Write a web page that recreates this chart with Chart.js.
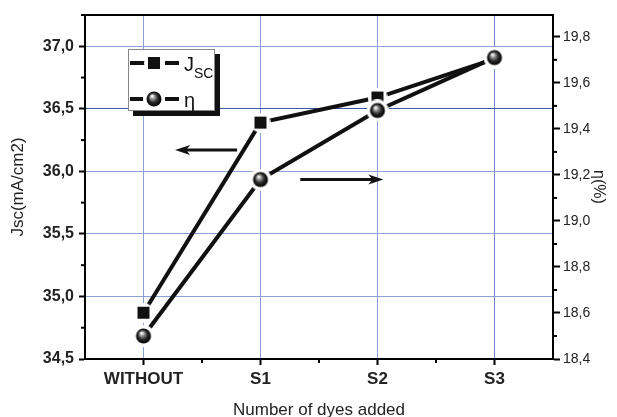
<!DOCTYPE html>
<html>
<head>
<meta charset="utf-8">
<script src="https://cdn.jsdelivr.net/npm/chart.js@4"></script>
<style>
    html, body { margin: 0; padding: 0; background: #fff; }
</style>
</head>
<body>
<canvas id="dyeChart" width="617" height="417"></canvas>
<script>
// Data
const categories = ['WITHOUT', 'S1', 'S2', 'S3'];
const jscValues = [34.87, 36.39, 36.59, 36.90];
const etaValues = [18.50, 19.18, 19.48, 19.71];
const jscTicks = [34.5, 35.0, 35.5, 36.0, 36.5, 37.0];
const etaTicks = [18.4, 18.6, 18.8, 19.0, 19.2, 19.4, 19.6, 19.8];

const FONT = "'Liberation Sans', Arial, sans-serif";
const GRID_LIGHT = '#8aa0d6';
const GRID_DARK = '#3a56a6';

// arrows pointing to the axis each curve belongs to (category index, axis value)
const arrowJsc = { from: 0.80, to: 0.27, value: 36.17 };
const arrowEta = { from: 1.34, to: 2.05, value: 19.18 };

// Marker images (white halo gives the Origin-style gap in the line)
function makeSquare() {
    const c = document.createElement('canvas');
    c.width = 20; c.height = 20;
    const g = c.getContext('2d');
    g.fillStyle = '#fff';
    g.beginPath(); g.arc(10, 10, 10, 0, Math.PI * 2); g.fill();
    g.fillStyle = '#111';
    g.fillRect(4, 4, 12, 12);
    return c;
}

function makeBall() {
    const c = document.createElement('canvas');
    c.width = 22; c.height = 22;
    const g = c.getContext('2d');
    g.fillStyle = '#fff';
    g.beginPath(); g.arc(11, 11, 11, 0, Math.PI * 2); g.fill();
    const grad = g.createRadialGradient(9, 8, 0.5, 11, 11, 7.5);
    grad.addColorStop(0, '#ffffff');
    grad.addColorStop(0.25, '#9a9a9a');
    grad.addColorStop(0.6, '#2a2a2a');
    grad.addColorStop(1, '#000000');
    g.fillStyle = grad;
    g.beginPath(); g.arc(11, 11, 7.5, 0, Math.PI * 2); g.fill();
    return c;
}

const squareImg = makeSquare();
const ballImg = makeBall();

function fmt(v) {
    return Number(v).toFixed(1).replace('.', ',');
}

function drawArrow(ctx, x1, x2, y) {
    const dir = Math.sign(x2 - x1);
    ctx.strokeStyle = '#111';
    ctx.fillStyle = '#111';
    ctx.lineWidth = 3;
    ctx.beginPath();
    ctx.moveTo(x1, y);
    ctx.lineTo(x2 - dir * 10, y);
    ctx.stroke();
    ctx.beginPath();
    ctx.moveTo(x2, y);
    ctx.lineTo(x2 - dir * 15, y - 5);
    ctx.lineTo(x2 - dir * 11, y);
    ctx.lineTo(x2 - dir * 15, y + 5);
    ctx.closePath();
    ctx.fill();
}

// Frame, minor ticks, arrows and legend
const decorPlugin = {
    id: 'decor',
    afterDraw(chart) {
        const { ctx, chartArea: a, scales } = chart;
        ctx.save();

        // top frame line
        ctx.strokeStyle = '#000';
        ctx.lineWidth = 2;
        ctx.beginPath();
        ctx.moveTo(a.left - 1, a.top);
        ctx.lineTo(a.right + 1, a.top);
        ctx.stroke();

        // minor ticks
        ctx.lineWidth = 2;
        for (let i = 0; i < jscTicks.length; i++) {
            const v = jscTicks[i] + 0.25;
            if (v > scales.y.max) break;
            const py = scales.y.getPixelForValue(v);
            ctx.beginPath(); ctx.moveTo(a.left - 4, py); ctx.lineTo(a.left, py); ctx.stroke();
        }
        for (let i = 0; i < etaTicks.length; i++) {
            const v = etaTicks[i] + 0.1;
            if (v > scales.y1.max) break;
            const py = scales.y1.getPixelForValue(v);
            ctx.beginPath(); ctx.moveTo(a.right, py); ctx.lineTo(a.right + 4, py); ctx.stroke();
        }
        for (let i = 0; i < categories.length - 1; i++) {
            const px = (scales.x.getPixelForValue(i) + scales.x.getPixelForValue(i + 1)) / 2;
            ctx.beginPath(); ctx.moveTo(px, a.bottom); ctx.lineTo(px, a.bottom + 4); ctx.stroke();
        }

        // arrows
        drawArrow(ctx, scales.x.getPixelForValue(arrowJsc.from), scales.x.getPixelForValue(arrowJsc.to),
            scales.y.getPixelForValue(arrowJsc.value));
        drawArrow(ctx, scales.x.getPixelForValue(arrowEta.from), scales.x.getPixelForValue(arrowEta.to),
            scales.y1.getPixelForValue(arrowEta.value));

        // legend box with shadow
        const bx = a.left + 43, by = a.top + 34, bw = 87, bh = 62;
        ctx.fillStyle = '#111';
        ctx.fillRect(bx + 5, by + 5, bw, bh);
        ctx.fillStyle = '#fff';
        ctx.fillRect(bx, by, bw, bh);
        ctx.strokeStyle = '#888';
        ctx.lineWidth = 1;
        ctx.strokeRect(bx + 0.5, by + 0.5, bw - 1, bh - 1);

        const rows = [
            { y: by + 14, img: squareImg, main: 'J', sub: 'SC' },
            { y: by + 50, img: ballImg, main: '\u03B7', sub: '' }
        ];
        rows.forEach(r => {
            ctx.strokeStyle = '#111';
            ctx.lineWidth = 4;
            ctx.beginPath(); ctx.moveTo(bx + 2, r.y); ctx.lineTo(bx + 18, r.y); ctx.stroke();
            ctx.beginPath(); ctx.moveTo(bx + 37, r.y); ctx.lineTo(bx + 51, r.y); ctx.stroke();
            ctx.drawImage(r.img, bx + 26 - r.img.width / 2, r.y - r.img.height / 2);
            ctx.fillStyle = '#111';
            ctx.textBaseline = 'alphabetic';
            ctx.textAlign = 'left';
            ctx.font = '20px ' + FONT;
            ctx.fillText(r.main, bx + 56, r.y + 8);
            if (r.sub) {
                const w = ctx.measureText(r.main).width;
                ctx.font = '14px ' + FONT;
                ctx.fillText(r.sub, bx + 56 + w, r.y + 15);
            }
        });

        ctx.restore();
    }
};

const ctx = document.getElementById('dyeChart');
new Chart(ctx, {
    type: 'line',
    data: {
        labels: categories,
        datasets: [{
            label: 'Jsc',
            data: jscValues,
            yAxisID: 'y',
            borderColor: '#111',
            borderWidth: 4,
            pointStyle: squareImg,
            tension: 0,
            order: 2
        }, {
            label: '\u03B7',
            data: etaValues,
            yAxisID: 'y1',
            borderColor: '#111',
            borderWidth: 4,
            pointStyle: ballImg,
            tension: 0,
            order: 1
        }]
    },
    options: {
        responsive: false,
        animation: false,
        devicePixelRatio: 1,
        layout: { padding: { top: 15, left: 0, right: 0, bottom: 0 } },
        plugins: {
            legend: { display: false },
            tooltip: { enabled: false }
        },
        scales: {
            x: {
                offset: true,
                grid: {
                    color: c => c.index === categories.length - 1 ? '#6f86c4' : GRID_LIGHT,
                    lineWidth: 1,
                    tickColor: '#000',
                    tickWidth: 2,
                    tickLength: 6
                },
                border: { color: '#000', width: 2 },
                ticks: {
                    color: '#222',
                    font: { family: FONT, size: 17, weight: 'bold' },
                    padding: 4,
                    maxRotation: 0,
                    autoSkip: false
                },
                title: {
                    display: true,
                    text: 'Number of dyes added',
                    color: '#222',
                    font: { family: FONT, size: 17, lineHeight: 1 },
                    padding: { top: 0, bottom: -2 }
                },
                afterFit: s => { s.height = 58; }
            },
            y: {
                position: 'left',
                min: 34.5,
                max: 37.25,
                afterBuildTicks: s => { s.ticks = jscTicks.map(v => ({ value: v })); },
                grid: {
                    color: c => (c.tick && c.tick.value === 36.5) ? GRID_DARK : GRID_LIGHT,
                    lineWidth: 1,
                    tickColor: '#000',
                    tickWidth: 2,
                    tickLength: 6
                },
                border: { color: '#000', width: 2 },
                ticks: {
                    color: '#222',
                    font: { family: FONT, size: 16, weight: 'bold' },
                    padding: 5,
                    callback: v => fmt(v)
                },
                title: {
                    display: true,
                    text: 'Jsc(mA/cm2)',
                    color: '#222',
                    font: { family: FONT, size: 17, lineHeight: 1 },
                    padding: 10
                },
                afterFit: s => { s.width = 85; }
            },
            y1: {
                position: 'right',
                min: 18.4,
                max: 19.895,
                afterBuildTicks: s => { s.ticks = etaTicks.map(v => ({ value: v })); },
                grid: {
                    drawOnChartArea: false,
                    tickColor: '#000',
                    tickWidth: 2,
                    tickLength: 7
                },
                border: { color: '#000', width: 2 },
                ticks: {
                    color: '#222',
                    font: { family: FONT, size: 14 },
                    padding: 3,
                    callback: v => fmt(v)
                },
                title: {
                    display: true,
                    text: '\u03B7(%)',
                    color: '#222',
                    font: { family: FONT, size: 16, lineHeight: 1 },
                    padding: 11
                },
                afterFit: s => { s.width = 64; }
            }
        }
    },
    plugins: [decorPlugin]
});
</script>
</body>
</html>
